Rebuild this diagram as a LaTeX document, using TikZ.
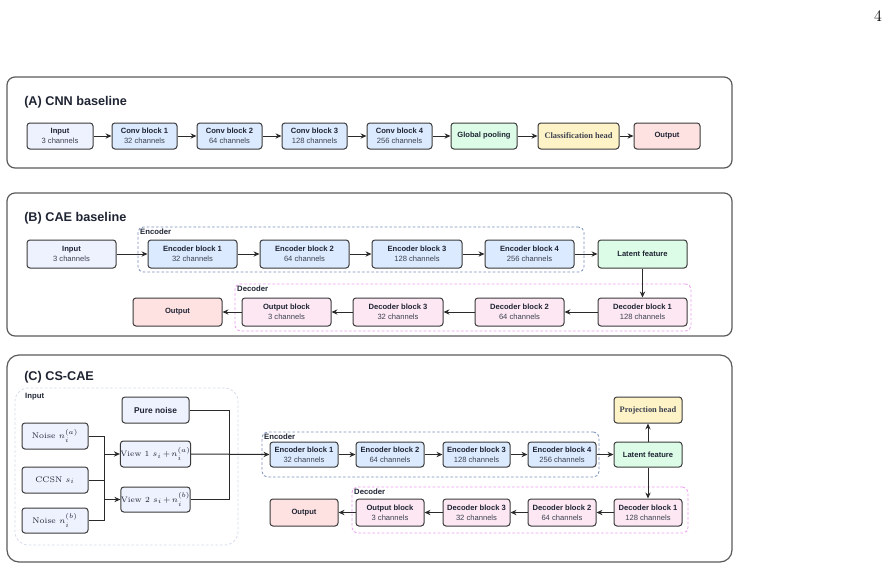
\documentclass[tikz,border=0pt]{standalone}
\usepackage{fontspec}
\newfontfamily\arial{Liberation Sans}
\newfontfamily\tnr{Liberation Serif}
\usetikzlibrary{arrows.meta,fit}
\definecolor{panelc}{HTML}{5A5A5A}
\definecolor{boxc}{HTML}{3A3A3A}
\definecolor{textc}{HTML}{1F2433}
\definecolor{subc}{HTML}{3D4250}
\definecolor{linec}{HTML}{2A2A2A}
\definecolor{inputf}{HTML}{EEF2FF}
\definecolor{encf}{HTML}{DBEAFE}
\definecolor{greenf}{HTML}{DCFCE7}
\definecolor{yellowf}{HTML}{FEF3C7}
\definecolor{redf}{HTML}{FEE2E2}
\definecolor{pinkf}{HTML}{FCE7F3}
\definecolor{encreg}{HTML}{7A8FB8}
\definecolor{decreg}{HTML}{EE9CEE}
\definecolor{inreg}{HTML}{D3DCEA}
\newcommand{\chn}[1]{{\mdseries\color{subc}#1}}
\newcommand{\tightmath}{\medmuskip=2mu\relax}
\tikzset{
  sz/.style 2 args={minimum width=#1*0.75pt, minimum height=#2*0.75pt},
  panel/.style={draw=panelc, line width=0.9pt, rounded corners=6pt},
  box/.style={draw=boxc, line width=0.75pt, rounded corners=2.2pt, inner sep=0pt,
    align=center, text=textc, font=\arial\bfseries\fontsize{5.7}{7.3}\selectfont},
  mathbox/.style={box, fill=inputf, font=\fontsize{6.1}{8}\selectfont},
  viewbox/.style={box, fill=inputf, font=\fontsize{5.9}{8}\selectfont\tightmath},
  serifbox/.style={box, font=\tnr\bfseries\fontsize{6.3}{8}\selectfont, text=subc},
  encregion/.style={draw=encreg, dashed, dash pattern=on 2pt off 1.5pt, line width=0.6pt, rounded corners=4pt, inner sep=0pt},
  decregion/.style={draw=decreg, dashed, dash pattern=on 2pt off 1.5pt, line width=0.6pt, rounded corners=4pt, inner sep=0pt},
  inregion/.style={draw=inreg, dashed, dash pattern=on 2pt off 1.5pt, line width=0.6pt, rounded corners=10pt, inner sep=0pt},
  reglabel/.style={font=\arial\bfseries\fontsize{5.8}{7}\selectfont, text=textc, inner sep=1pt, anchor=north west},
  title/.style={font=\arial\bfseries\fontsize{9.5}{11}\selectfont, text=textc, anchor=west, inner sep=0pt},
  arr/.style={draw=linec, line width=0.75pt, -{Stealth[length=4.5pt,width=4pt]}},
  conn/.style={draw=linec, line width=0.75pt},
}
\begin{document}
\begin{tikzpicture}[x=0.75pt,y=-0.75pt]
\useasboundingbox (0,0) rectangle (890,569);
\node[font=\fontsize{12}{12}\selectfont, inner sep=0pt] (pg) at (878,16) {4};

% ---------------- Panel A
\draw[panel] (7,77) rectangle (732,168);
\node[title] (tA) at (24,102) {(A) CNN baseline};
\node[box, fill=inputf, sz={66}{26}] (inA) at (60,136) {Input\\\chn{3 channels}};
\node[box, fill=encf, sz={65}{26}] (c1) at (144.5,136) {Conv block 1\\\chn{32 channels}};
\node[box, fill=encf, sz={65}{26}] (c2) at (229.5,136) {Conv block 2\\\chn{64 channels}};
\node[box, fill=encf, sz={65}{26}] (c3) at (314.5,136) {Conv block 3\\\chn{128 channels}};
\node[box, fill=encf, sz={65}{26}] (c4) at (399.5,136) {Conv block 4\\\chn{256 channels}};
\node[box, fill=greenf, sz={66}{26}] (gp) at (484,136) {Global pooling};
\node[serifbox, fill=yellowf, sz={81}{26}] (ch) at (578.5,136) {Classification head};
\node[box, fill=redf, sz={66}{26}] (outA) at (667,136) {Output};
\draw[arr] (inA) -- (c1);
\draw[arr] (c1) -- (c2);
\draw[arr] (c2) -- (c3);
\draw[arr] (c3) -- (c4);
\draw[arr] (c4) -- (gp);
\draw[arr] (gp) -- (ch);
\draw[arr] (ch) -- (outA);

% ---------------- Panel B
\draw[panel] (7,193) rectangle (732,336);
\node[title] (tB) at (24,218) {(B) CAE baseline};
\node[encregion, fit={(138,227) (584,272)}] (encB) {};
\node[reglabel] (encBl) at ([shift={(1,0.5)}]encB.north west) {Encoder};
\node[decregion, fit={(235,284) (691,331)}] (decB) {};
\node[reglabel] (decBl) at ([shift={(1,0.5)}]decB.north west) {Decoder};
\node[box, fill=inputf, sz={89}{28}] (inB) at (71.5,254) {Input\\\chn{3 channels}};
\node[box, fill=encf, sz={89}{28}] (e1B) at (192.5,254) {Encoder block 1\\\chn{32 channels}};
\node[box, fill=encf, sz={89}{28}] (e2B) at (304.5,254) {Encoder block 2\\\chn{64 channels}};
\node[box, fill=encf, sz={90}{28}] (e3B) at (417,254) {Encoder block 3\\\chn{128 channels}};
\node[box, fill=encf, sz={89}{28}] (e4B) at (529.5,254) {Encoder block 4\\\chn{256 channels}};
\node[box, fill=greenf, sz={89}{28}] (latB) at (642.5,254) {Latent feature};
\node[box, fill=redf, sz={89}{28}] (outB) at (177.5,312) {Output};
\node[box, fill=pinkf, sz={89}{28}] (obB) at (286.5,312) {Output block\\\chn{3 channels}};
\node[box, fill=pinkf, sz={90}{28}] (d3B) at (398,312) {Decoder block 3\\\chn{32 channels}};
\node[box, fill=pinkf, sz={89}{28}] (d2B) at (519.5,312) {Decoder block 2\\\chn{64 channels}};
\node[box, fill=pinkf, sz={89}{28}] (d1B) at (642.5,312) {Decoder block 1\\\chn{128 channels}};
\draw[arr] (inB) -- (e1B);
\draw[arr] (e1B) -- (e2B);
\draw[arr] (e2B) -- (e3B);
\draw[arr] (e3B) -- (e4B);
\draw[arr] (e4B) -- (latB);
\draw[arr] (latB) -- (d1B);
\draw[arr] (d1B) -- (d2B);
\draw[arr] (d2B) -- (d3B);
\draw[arr] (d3B) -- (obB);
\draw[arr] (obB) -- (outB);

% ---------------- Panel C
\draw[panel, rounded corners=9pt] (7,355) rectangle (732,562);
\node[title] (tC) at (24,377) {(C) CS-CAE};
\node[inregion, fit={(15,388) (238,545)}] (inC) {};
\node[reglabel] (inCl) at ([shift={(9,4)}]inC.north west) {Input};
\node[box, fill=inputf, font=\arial\bfseries\fontsize{6.3}{8}\selectfont, sz={67}{26}] (pn) at (155.5,410) {Pure noise};
\node[mathbox, sz={66}{26}] (na) at (55,436) {Noise $n_i^{(a)}$};
\node[mathbox, sz={66}{26}] (cc) at (55,480) {CCSN $s_i$};
\node[mathbox, sz={66}{25}] (nb) at (55,520.5) {Noise $n_i^{(b)}$};
\node[viewbox, sz={67}{26}] (v1) at (155.5,454) {View 1 $s_i+n_i^{(a)}$};
\node[viewbox, sz={67}{25}] (v2) at (155.5,499.5) {View 2 $s_i+n_i^{(b)}$};
\coordinate (bl1) at (104,454);
\coordinate (bl2) at (104,499.5);
\coordinate (br) at (229,454);
\draw[conn] (na.east) -| (bl1);
\draw[conn] (nb.east) -| (bl2);
\draw[conn] (bl1) -- (bl2);
\draw[conn] (cc.east) -- (cc.east -| bl1);
\draw[arr] (bl1) -- (v1.west);
\draw[arr] (bl2) -- (v2.west);
\draw[conn] (pn.east) -| (br);
\draw[conn] (v2.east) -| (br);

\node[encregion, fit={(262,432) (599,477)}] (encC) {};
\node[reglabel] (encCl) at ([shift={(1,0.5)}]encC.north west) {Encoder};
\node[decregion, fit={(352,487) (688,533)}] (decC) {};
\node[reglabel] (decCl) at ([shift={(1,0.5)}]decC.north west) {Decoder};
\node[box, fill=encf, sz={68}{25}] (e1C) at (304,454.5) {Encoder block 1\\\chn{32 channels}};
\node[box, fill=encf, sz={68}{25}] (e2C) at (390,454.5) {Encoder block 2\\\chn{64 channels}};
\node[box, fill=encf, sz={67}{25}] (e3C) at (476.5,454.5) {Encoder block 3\\\chn{128 channels}};
\node[box, fill=encf, sz={68}{25}] (e4C) at (562,454.5) {Encoder block 4\\\chn{256 channels}};
\node[box, fill=greenf, sz={68}{25}] (latC) at (648,454.5) {Latent feature};
\node[serifbox, fill=yellowf, sz={68}{26}] (proj) at (648,410) {Projection head};
\node[box, fill=redf, sz={68}{27}] (outC) at (304,512.5) {Output};
\node[box, fill=pinkf, sz={68}{27}] (obC) at (390,512.5) {Output block\\\chn{3 channels}};
\node[box, fill=pinkf, sz={67}{27}] (d3C) at (476.5,512.5) {Decoder block 3\\\chn{32 channels}};
\node[box, fill=pinkf, sz={68}{27}] (d2C) at (562,512.5) {Decoder block 2\\\chn{64 channels}};
\node[box, fill=pinkf, sz={68}{27}] (d1C) at (648,512.5) {Decoder block 1\\\chn{128 channels}};
\draw[arr] (v1.east) -- (e1C.west);
\draw[arr] (e1C) -- (e2C);
\draw[arr] (e2C) -- (e3C);
\draw[arr] (e3C) -- (e4C);
\draw[arr] (e4C) -- (latC);
\draw[arr] (latC) -- (proj);
\draw[arr] (latC) -- (d1C);
\draw[arr] (d1C) -- (d2C);
\draw[arr] (d2C) -- (d3C);
\draw[arr] (d3C) -- (obC);
\draw[arr] (obC) -- (outC);
\end{tikzpicture}
\end{document}
